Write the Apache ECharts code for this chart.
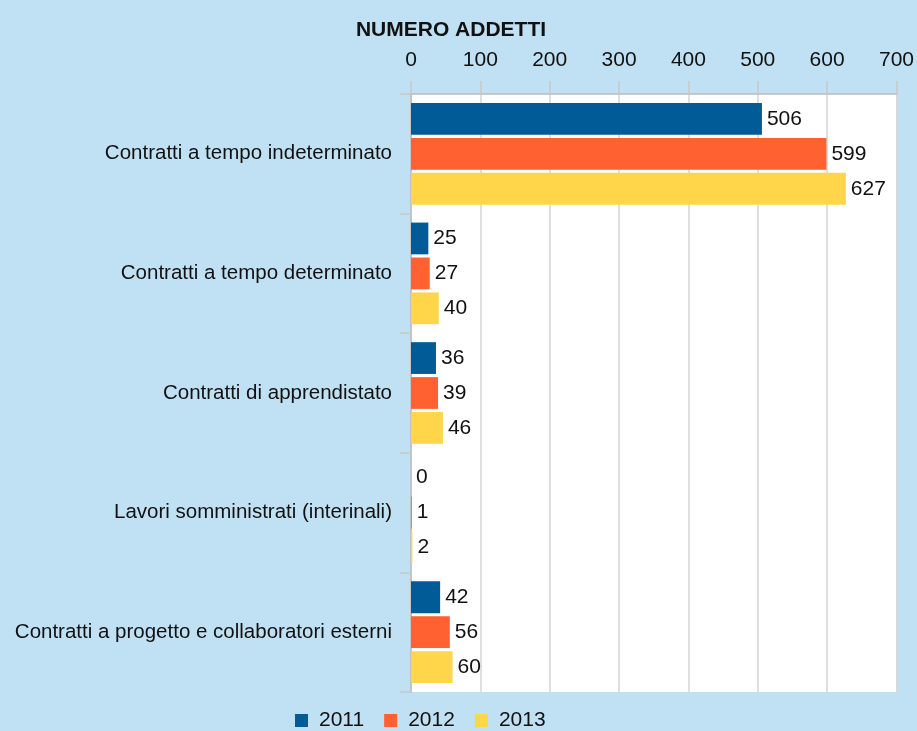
<!DOCTYPE html>
<html><head><meta charset="utf-8">
<script src="https://cdn.jsdelivr.net/npm/echarts@6/dist/echarts.min.js"></script>
<style>html,body{margin:0;padding:0;background:#c0e1f3;}#c{width:917px;height:731px;}</style>
</head><body><div id="c"></div>
<script>
const categories = ["Contratti a tempo indeterminato","Contratti a tempo determinato","Contratti di apprendistato","Lavori somministrati (interinali)","Contratti a progetto e collaboratori esterni"];
const years = ["2011","2012","2013"];
const values2011 = [506,25,36,0,42];
const values2012 = [599,27,39,1,56];
const values2013 = [627,40,46,2,60];
const colors = ["#005b96","#ff6131","#ffd54a"];
const FONT = '"Liberation Sans Narrow","Arial Narrow","Liberation Sans",sans-serif';
const chart = echarts.init(document.getElementById('c'));
const mk = (name, data, color) => ({
  name, type:'bar', data, itemStyle:{color},
  barGap:'10%', barCategoryGap:'15%',
  label:{show:true, position:'right', distance:5, color:'#111', fontFamily:FONT, fontSize:21}
});
chart.setOption({
  backgroundColor:'#c0e1f3',
  animation:false,
  textStyle:{fontFamily:FONT},
  title:{text:'NUMERO ADDETTI', left:446, textAlign:'center', top:15,
    textStyle:{fontFamily:FONT, fontSize:21, fontWeight:'bold', color:'#111'}},
  legend:{top:705, left:290, itemWidth:13, itemHeight:13, itemGap:20, icon:'rect',
    textStyle:{fontFamily:FONT, fontSize:21, color:'#111', padding:[0,0,0,6]}},
  grid:{left:411, right:19, top:94, bottom:39, show:true, backgroundColor:'#fff', borderWidth:0, containLabel:false},
  xAxis:{type:'value', position:'top', min:0, max:700, interval:100,
    axisLine:{show:true, lineStyle:{color:'#bbb', width:1.5}},
    axisTick:{show:true, length:13, lineStyle:{color:'#c8c8c8', width:1.5}},
    splitLine:{show:true, lineStyle:{color:'#d4d4d4', width:1.5}},
    axisLabel:{fontFamily:FONT, fontSize:21, color:'#111', margin:23}},
  yAxis:{type:'category', data:categories, inverse:true,
    axisLine:{show:true, lineStyle:{color:'#bbb', width:1.5}},
    axisTick:{show:true, length:11, lineStyle:{color:'#c8c8c8', width:1.5}},
    axisLabel:{fontFamily:FONT, fontSize:20.5, color:'#111', margin:19}},
  series:[mk(years[0],values2011,colors[0]), mk(years[1],values2012,colors[1]), mk(years[2],values2013,colors[2])]
});
</script></body></html>
